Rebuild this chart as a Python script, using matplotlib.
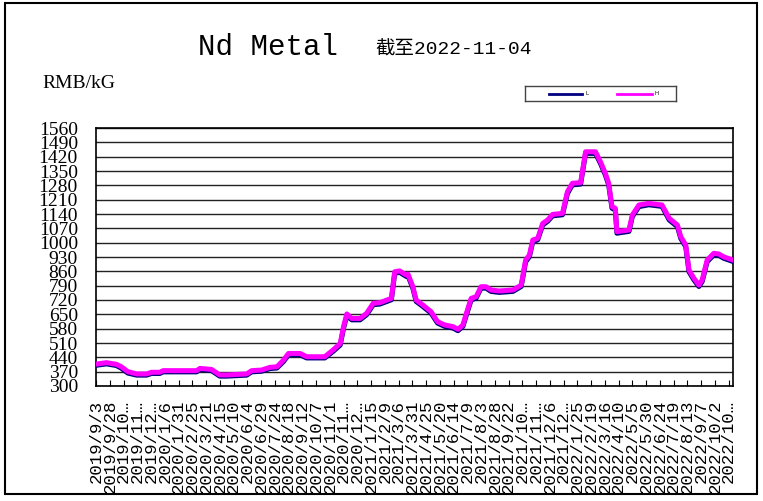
import numpy as np
import pandas as pd
import matplotlib
matplotlib.use('Agg')
import matplotlib.pyplot as plt
from matplotlib.patches import Rectangle

# data
dates = ['2019-09-03','2019-09-22','2019-10-10','2019-10-19','2019-10-31','2019-11-16','2019-12-04','2019-12-13','2019-12-28','2020-01-03',
         '2020-03-04','2020-03-10','2020-03-31','2020-04-15','2020-04-27','2020-06-03','2020-06-12','2020-06-30','2020-07-15','2020-07-28',
         '2020-08-09','2020-08-18','2020-09-08','2020-09-20','2020-10-23','2020-11-07','2020-11-20','2020-11-26','2020-12-02','2020-12-11',
         '2020-12-26','2021-01-07','2021-01-19','2021-01-31','2021-02-21','2021-02-27','2021-03-08','2021-03-20','2021-03-23','2021-04-01',
         '2021-04-07','2021-04-19','2021-05-04','2021-05-16','2021-05-29','2021-06-13','2021-06-22','2021-07-01','2021-07-07','2021-07-16',
         '2021-07-25','2021-08-03','2021-08-12','2021-08-21','2021-09-05','2021-09-30','2021-10-15','2021-10-23','2021-10-30','2021-11-05',
         '2021-11-14','2021-11-23','2021-12-02','2021-12-11','2021-12-29','2022-01-07','2022-01-16','2022-01-31','2022-02-09','2022-02-27',
         '2022-03-08','2022-03-17','2022-03-23','2022-03-29','2022-04-04','2022-04-07','2022-04-29','2022-05-05','2022-05-17','2022-06-04',
         '2022-06-28','2022-07-11','2022-07-26','2022-08-01','2022-08-10','2022-08-16','2022-08-25','2022-09-03','2022-09-09','2022-09-18',
         '2022-09-30','2022-10-09','2022-10-18','2022-11-04']

high = [407,414,406,394,370,359,359,367,367,375,
        375,386,381,354,354,359,375,378,391,394,
        427,459,459,443,443,476,508,590,652,630,
        630,655,704,707,728,858,862,842,847,785,
        720,696,663,614,598,590,577,598,652,728,
        736,785,785,769,764,769,793,915,940,1013,
        1021,1094,1111,1138,1143,1249,1290,1293,1444,1444,
        1395,1338,1290,1176,1168,1054,1062,1135,1184,1192,
        1184,1119,1086,1029,989,866,826,793,818,915,
        948,945,931,915]

low = [401,408,400,387,363,353,353,361,361,369,
       369,380,375,348,348,353,369,372,385,388,
       420,452,452,437,437,469,500,582,644,623,
       623,648,697,700,721,850,855,835,840,777,
       713,689,656,607,591,583,570,591,644,720,
       729,778,778,762,757,762,786,906,932,1005,
       1014,1086,1104,1131,1136,1240,1282,1286,1436,1436,
       1387,1330,1282,1168,1160,1046,1055,1127,1176,1185,
       1177,1111,1078,1021,981,858,818,786,810,907,
       940,938,924,908]

y_ticks = list(range(300, 1561, 70))
tick_start = '2019-09-03'
tick_count = 47
tick_step = '25D'

x = pd.to_datetime(dates)

W, H = 763, 501
fig = plt.figure(figsize=(W / 100, H / 100), dpi=100)

ax = fig.add_axes([96 / W, 1 - 386 / H, 637 / W, 258 / H])
ax.plot(x, low, color='#000080', lw=3.6, solid_joinstyle='round', zorder=3)
ax.plot(x, high, color='#FF00FF', lw=3.6, solid_joinstyle='round', zorder=4)

ax.set_ylim(300, 1560)
ax.set_yticks(y_ticks)
ax.set_yticklabels([str(v) for v in y_ticks], family='Liberation Serif', fontsize=14)
ax.tick_params(axis='y', length=0, pad=13)
ax.grid(axis='y', color='#222222', lw=1.0)
ax.set_axisbelow(True)

ticks = pd.date_range(tick_start, periods=tick_count, freq=tick_step)
labels = []
for t in ticks:
    s = f'{t.year}/{t.month}/{t.day}'
    if len(s) > 9:
        s = s[:7] + '…'
    labels.append(s)
ax.set_xticks(ticks)
ax.set_xticklabels(labels, rotation=90, family='Liberation Mono', fontsize=12.5)
ax.tick_params(axis='x', direction='in', length=4, pad=10, color='black')
ax.set_xlim(pd.Timestamp('2019-09-03'), pd.Timestamp('2022-11-04'))

for sp in ax.spines.values():
    sp.set_color('black')
    sp.set_linewidth(1.2)

fig.text(198 / W, 1 - 55 / H, 'Nd Metal', family='Liberation Mono', fontsize=21, va='baseline')
fig.text(375 / W, 1 - 55 / H, '截至2022-11-04', family=['Liberation Mono', 'Noto Sans CJK SC'],
         fontsize=14, va='baseline')
fig.text(42 / W, 1 - 88 / H, 'RMB/kG', family='Liberation Serif', fontsize=14, va='baseline')

# legend box
lax = fig.add_axes([525 / W, 1 - 101 / H, 151 / W, 15 / H])
lax.set_xlim(0, 151)
lax.set_ylim(0, 15)
lax.plot([24, 57], [7.5, 7.5], color='#000080', lw=2)
lax.plot([92, 127], [7.5, 7.5], color='#FF00FF', lw=2)
lax.text(60, 7.5, 'L', fontsize=4, va='center')
lax.text(130, 7.5, 'H', fontsize=4, va='center')
lax.set_xticks([])
lax.set_yticks([])
for sp in lax.spines.values():
    sp.set_color('#444444')
    sp.set_linewidth(1)

fig.add_artist(Rectangle((5 / W, 1 - 494 / H), 752 / W, 491 / H, transform=fig.transFigure,
                         fill=False, edgecolor='black', lw=1.5))

fig.savefig('out.png', dpi=100)
